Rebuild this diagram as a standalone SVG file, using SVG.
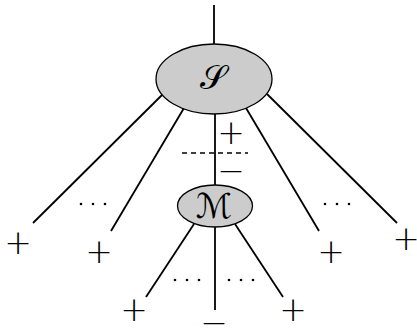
<svg xmlns="http://www.w3.org/2000/svg" width="417" height="335" viewBox="0 0 417 335">
<style>
.e{fill:#cccccc;stroke:#000;stroke-width:1.3}
.l{stroke:#000;stroke-width:1.8;fill:none}
.d{stroke:#000;stroke-width:1.3;stroke-dasharray:5,4;fill:none}
.s{font-family:"DejaVu Sans",sans-serif;font-weight:200;font-size:33px;text-anchor:middle;fill:#000}
.c{font-family:"DejaVu Serif","DejaVu Sans",serif;font-size:34px;text-anchor:middle;fill:#000}
.dot{fill:#000}
</style>
<g id="connectors">
<line class="l" x1="214" y1="5" x2="214" y2="44"/>
<line class="l" x1="163" y1="94" x2="33" y2="223"/>
<line class="l" x1="184" y1="108" x2="111" y2="231"/>
<line class="l" x1="246" y1="108" x2="319" y2="231"/>
<line class="l" x1="267" y1="94" x2="397" y2="223"/>
<line class="l" x1="215" y1="114" x2="215" y2="186"/>
<line class="d" x1="182" y1="153" x2="248" y2="153"/>
<line class="l" x1="194" y1="224" x2="146" y2="297"/>
<line class="l" x1="215" y1="227" x2="215" y2="310"/>
<line class="l" x1="235" y1="224" x2="283" y2="297"/>
</g>
<g id="S">
<ellipse class="e" cx="214" cy="79" rx="58" ry="35"/>
<text class="c" x="213" y="89">𝒮</text>
</g>
<g id="M">
<ellipse class="e" cx="215" cy="206" rx="37.5" ry="21"/>
<text class="c" x="214" y="218">ℳ</text>
</g>
<g id="labels">
<text class="s" x="231" y="144">+</text>
<text class="s" x="231" y="182">−</text>
<text class="s" x="18" y="254">+</text>
<text class="s" x="99" y="263">+</text>
<text class="s" x="331" y="263">+</text>
<text class="s" x="406" y="250">+</text>
<text class="s" x="134" y="321">+</text>
<text class="s" x="293" y="321">+</text>
<text class="s" x="214" y="334">−</text>
</g>
<g id="dots">
<circle class="dot" cx="81" cy="204" r="1.3"/><circle class="dot" cx="93" cy="204" r="1.3"/><circle class="dot" cx="105" cy="204" r="1.3"/>
<circle class="dot" cx="325" cy="204" r="1.3"/><circle class="dot" cx="337" cy="204" r="1.3"/><circle class="dot" cx="349" cy="204" r="1.3"/>
<circle class="dot" cx="175" cy="280" r="1.3"/><circle class="dot" cx="187" cy="280" r="1.3"/><circle class="dot" cx="199" cy="280" r="1.3"/>
<circle class="dot" cx="229" cy="280" r="1.3"/><circle class="dot" cx="241" cy="280" r="1.3"/><circle class="dot" cx="253" cy="280" r="1.3"/>
</g>
</svg>
